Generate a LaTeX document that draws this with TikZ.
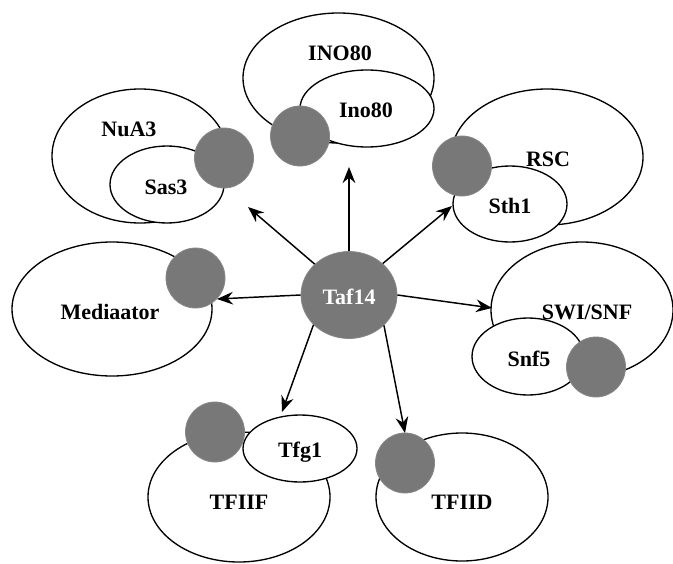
\documentclass[tikz,border=0pt]{standalone}
\usepackage{fontspec}
\setmainfont{Liberation Serif}
\usetikzlibrary{shapes.geometric,arrows.meta}
\definecolor{cg}{RGB}{120,120,120}
\definecolor{cgb}{RGB}{135,135,135}
\tikzset{
  ell/.style 2 args={ellipse, draw=black, line width=1pt, fill=white, inner sep=0pt,
     minimum width=#1*0.75pt, minimum height=#2*0.75pt},
  dot/.style={ellipse, draw=cgb, line width=0.6pt, fill=cg, inner sep=0pt,
     minimum width=59*0.75pt, minimum height=60*0.75pt},
  lbl/.style={font=\fontsize{16.5}{19}\selectfont\bfseries, inner sep=0pt},
  arr/.style={-{Stealth[length=12pt,width=9.5pt,inset=4pt]}, line width=1.1pt},
}
\begin{document}
\begin{tikzpicture}[x=0.75pt,y=-0.75pt]
\useasboundingbox (0,0) rectangle (673,563);
% NuA3
\node[ell={176}{134}] (nua3) at (140,156) {};
\node[ell={114}{77}] (sas3) at (167,184.5) {};
\node[dot] (nua3d) at (224,158) {};
\node[lbl] (nua3t) at (129,129) {NuA3};
\node[lbl] (sas3t) at (166,187) {Sas3};
% INO80
\node[ell={191}{130}] (ino) at (338.5,78) {};
\node[ell={134}{77}] (inoi) at (367,108.5) {};
\node[dot] (inod) at (300,136) {};
\node[lbl] (inot) at (340,53) {INO80};
\node[lbl] (inoit) at (366,110) {Ino80};
% RSC
\node[ell={192}{136}] (rsc) at (547,157) {};
\node[ell={114}{76}] (sth) at (510,204) {};
\node[dot] (rscd) at (462,166) {};
\node[lbl] (rsct) at (548,159) {RSC};
\node[lbl] (stht) at (510,206) {Sth1};
% Mediaator
\node[ell={200}{134}] (med) at (112,309) {};
\node[dot] (medd) at (195.5,278) {};
\node[lbl] (medt) at (110,312) {Mediaator};
% SWI/SNF
\node[ell={182}{136}] (swi) at (582,310) {};
\node[ell={112}{77}] (snf) at (528,356.5) {};
\node[dot] (swid) at (596,367) {};
\node[lbl] (swit) at (587,312) {SWI/SNF};
\node[lbl] (snft) at (529,359) {Snf5};
% TFIIF
\node[ell={182}{130}] (tf2f) at (239,497) {};
\node[ell={114}{67}] (tfg) at (300,448.5) {};
\node[dot] (tf2fd) at (215,432) {};
\node[lbl] (tf2ft) at (239,502) {TFIIF};
\node[lbl] (tfgt) at (300,452) {Tfg1};
% TFIID
\node[ell={172}{128}] (tf2d) at (462,497) {};
\node[dot] (tf2dd) at (405,463) {};
\node[lbl] (tf2dt) at (462,502) {TFIID};
% Taf14
\node[ellipse, fill=cg, draw=cgb, line width=0.6pt, inner sep=0pt,
      minimum width=96*0.75pt, minimum height=87*0.75pt] (taf) at (349,295) {};
\node[lbl, text=white] (taft) at (349,297) {Taf14};
% arrow tips
\coordinate (tNu) at (248,207);
\coordinate (tIno) at (349,167);
\coordinate (tRsc) at (452,206);
\coordinate (tMed) at (217,299);
\coordinate (tSwi) at (492,308);
\coordinate (tTfg) at (282,412);
\coordinate (tTfd) at (405,433);
\draw[arr] (taf.138) -- (tNu);
\draw[arr] (taf.90) -- (tIno);
\draw[arr] (taf.43) -- (tRsc);
\draw[arr] (taf.180) -- (tMed);
\draw[arr] (taf.0) -- (tSwi);
\draw[arr] (taf.220) -- (tTfg);
\draw[arr] (taf.319) -- (tTfd);
\end{tikzpicture}
\end{document}
